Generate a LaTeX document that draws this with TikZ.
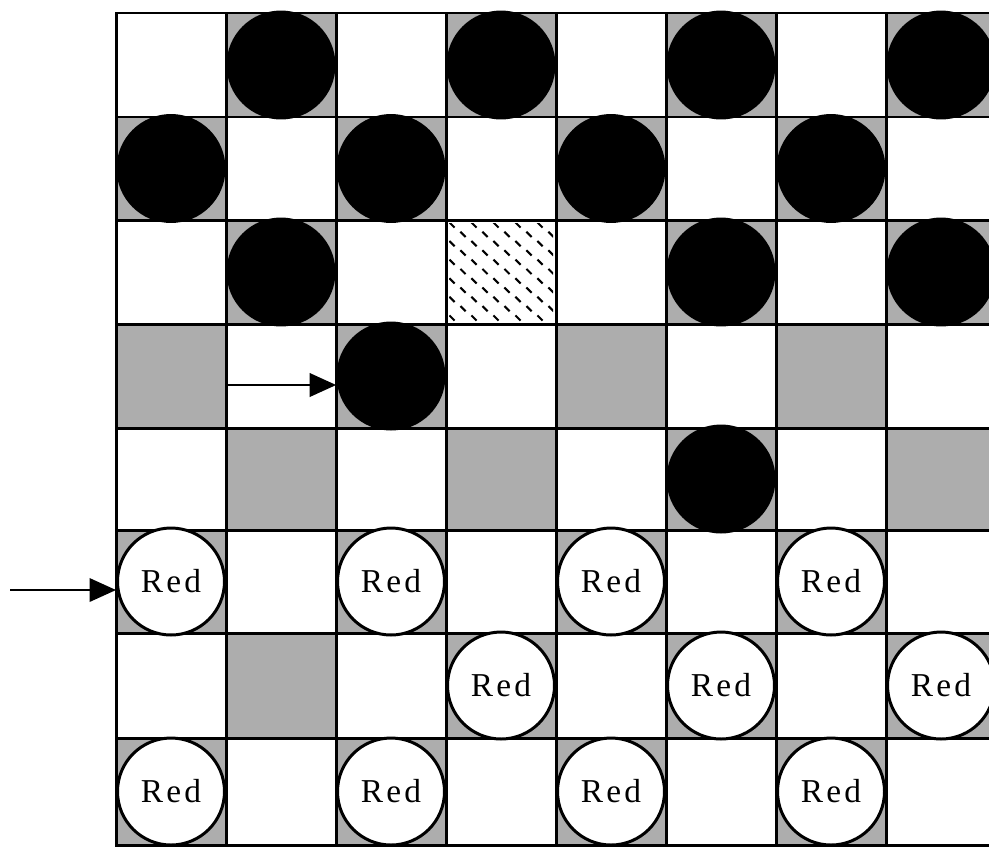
\documentclass[tikz,border=0pt]{standalone}
\usepackage{fontspec}
\setmainfont{Liberation Serif}
\usetikzlibrary{arrows.meta}
\begin{document}
\begin{tikzpicture}[x=0.02cm,y=-0.02cm,
  cell/.style={rectangle,draw=black,line width=1.7pt,minimum width=2.2cm,inner sep=0pt,outer sep=0pt},
  bpiece/.style={circle,fill=black,minimum size=2.18cm,inner sep=0pt},
  rpiece/.style={circle,draw=black,line width=1.7pt,fill=white,minimum size=2.14cm,inner sep=0pt,font=\fontsize{19}{21}\selectfont},
  dashmark/.style={line width=1.2pt},
  arr/.style={line width=1.2pt,-{Triangle[length=0.53cm,width=0.47cm]}}
]
\useasboundingbox (0,0) rectangle (989,849);
\clip (0,0) rectangle (989,849);
% board squares
\foreach \r/\ya/\yb in {1/13/117,2/117/220,3/220/324,4/324/428,5/428/530,6/530/633,7/633/738,8/738/845}{
  \foreach \c in {1,...,8}{
    \pgfmathsetmacro\xc{116+110*(\c-1)+55}
    \pgfmathsetmacro\yc{(\ya+\yb)/2}
    \pgfmathsetmacro\hh{(\yb-\ya)*0.02}
    \pgfmathtruncatemacro\pty{mod(\r+\c,2)}
    \ifnum\pty=1 \def\cf{black!32}\else\def\cf{white}\fi
    \ifnum\r\c=34 \def\cf{white}\fi
    \node[cell,fill=\cf,minimum height=\hh cm] (s\r\c) at (\xc,\yc) {};
  }
}
% dashed-pattern square (row 3, column 4)
\begin{scope}
  \clip (449,223) rectangle (553,321);
  \foreach \j in {0,...,10}{
    \foreach \i in {0,...,4}{
      \pgfmathsetmacro\dx{452+22*\i+11*mod(\j,2)}
      \pgfmathsetmacro\dy{225+9.3*\j}
      \draw[dashmark] (\dx-2.6,\dy-2.6) -- (\dx+2.6,\dy+2.6);
    }
  }
\end{scope}
% black pieces
\foreach \p in {12,14,16,18,21,23,25,27,32,36,38,43,56}{
  \node[bpiece] (b\p) at (s\p) {};
}
% red pieces
\foreach \p in {61,63,65,67,74,76,78,81,83,85,87}{
  \node[rpiece] (r\p) at (s\p) {R\kern1.8pt e\kern1.8pt d};
}
% arrows
\coordinate (a1) at (228,385);
\coordinate (a2) at (10,590);
\draw[arr] (a1) -- (a1 -| b43.west);
\draw[arr] (a2) -- (a2 -| r61.west);
\end{tikzpicture}
\end{document}
